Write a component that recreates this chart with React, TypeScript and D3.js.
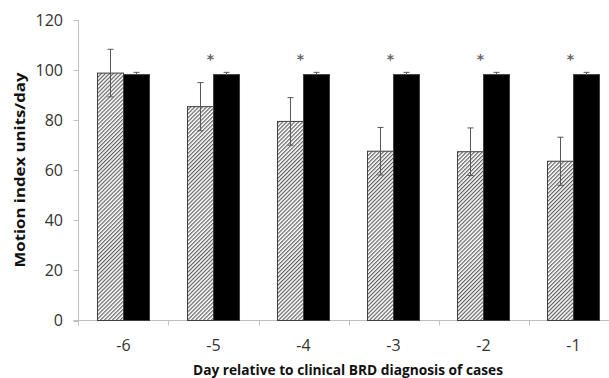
import React from 'react';
import * as d3 from 'd3';

const days = ['-6', '-5', '-4', '-3', '-2', '-1'];
const casesMean = [98.8, 85.4, 79.5, 67.6, 67.4, 63.6];
const casesErr = [9.5, 9.6, 9.5, 9.5, 9.5, 9.6];
const controlsMean = [98.2, 98.2, 98.2, 98.2, 98.2, 98.2];
const controlsErr = [0.9, 0.9, 0.9, 0.9, 0.9, 0.9];
const significant = [false, true, true, true, true, true];
const yTicks = [0, 20, 40, 60, 80, 100, 120];

const width = 609;
const height = 378;
const font = "'Open Sans', sans-serif";

const App = () => {
    const x = d3.scaleBand()
        .domain(days)
        .range([78.5, 618.5])
        .paddingInner(0.422)
        .paddingOuter(0.211);

    const sub = d3.scaleBand()
        .domain(['cases', 'controls'])
        .range([0, x.bandwidth()]);

    const y = d3.scaleLinear()
        .domain([0, 120])
        .range([320.5, 20]);

    const axisColor = '#bfbfbf';
    const errColor = '#555';
    const cap = 3;

    return (
        <svg width={width} height={height} style={{ position: 'absolute', left: 0, top: 0, background: '#fff' }}>
            <defs>
                <pattern id="hatch" patternUnits="userSpaceOnUse" width="2.8" height="2.8" patternTransform="rotate(45)">
                    <rect width="2.8" height="2.8" fill="#fff" />
                    <line x1="0.6" y1="0" x2="0.6" y2="2.8" stroke="#555" strokeWidth="1.1" />
                </pattern>
            </defs>

            {/* y axis */}
            <line x1={78.5} x2={78.5} y1={y(120)} y2={y(0)} stroke={axisColor} />
            {yTicks.map(t => (
                <g key={t}>
                    <line x1={73.5} x2={78.5} y1={Math.round(y(t)) + 0.5} y2={Math.round(y(t)) + 0.5} stroke={axisColor} />
                    <text x={63} y={y(t)} dy="0.36em" textAnchor="end" fontFamily={font} fontSize={16} fill="#333">{t}</text>
                </g>
            ))}

            {/* x axis */}
            <line x1={73.5} x2={width} y1={y(0)} y2={y(0)} stroke={axisColor} />
            {days.map(d => (
                <line key={d} x1={Math.round(x(d)! - x.step() * 0.211) + 0.5} x2={Math.round(x(d)! - x.step() * 0.211) + 0.5}
                    y1={y(0)} y2={y(0) + 5} stroke={axisColor} />
            ))}
            {days.map(d => (
                <text key={d} x={x(d)! + x.bandwidth() / 2} y={345} dy="0.36em" textAnchor="middle"
                    fontFamily={font} fontSize={16} fill="#333">{d}</text>
            ))}

            {/* bars */}
            {days.map((d, i) => {
                const x0 = x(d)!;
                const xc = x0 + sub('cases')!;
                const xk = x0 + sub('controls')!;
                const bw = sub.bandwidth();
                const cm = xc + bw / 2;
                const km = xk + bw / 2;
                return (
                    <g key={d}>
                        <rect x={xc} y={y(casesMean[i])} width={bw} height={y(0) - y(casesMean[i])}
                            fill="url(#hatch)" stroke="#404040" strokeWidth={1} />
                        <rect x={xk} y={y(controlsMean[i])} width={bw} height={y(0) - y(controlsMean[i])}
                            fill="#000" stroke="#404040" strokeWidth={1} />
                        <g stroke={errColor} strokeWidth={1}>
                            <line x1={cm} x2={cm} y1={y(casesMean[i] + casesErr[i])} y2={y(casesMean[i] - casesErr[i])} />
                            <line x1={cm - cap} x2={cm + cap} y1={y(casesMean[i] + casesErr[i])} y2={y(casesMean[i] + casesErr[i])} />
                            <line x1={cm - cap} x2={cm + cap} y1={y(casesMean[i] - casesErr[i])} y2={y(casesMean[i] - casesErr[i])} />
                            <line x1={km} x2={km} y1={y(controlsMean[i] + controlsErr[i])} y2={y(controlsMean[i])} />
                            <line x1={km - cap} x2={km + cap} y1={y(controlsMean[i] + controlsErr[i])} y2={y(controlsMean[i] + controlsErr[i])} />
                        </g>
                        {significant[i] && (
                            <text x={x0 + x.bandwidth() / 2 - 3} y={64} textAnchor="middle"
                                fontFamily="'DejaVu Sans', sans-serif" fontSize={14} fontWeight="bold" fill="#666">*</text>
                        )}
                    </g>
                );
            })}

            {/* axis titles */}
            <text transform="translate(25,170) rotate(-90)" textAnchor="middle" fontFamily={font}
                fontWeight="bold" fontSize={15} fill="#111" textLength={195} lengthAdjust="spacingAndGlyphs">
                Motion index units/day
            </text>
            <text x={348} y={375} textAnchor="middle" fontFamily={font} fontWeight="bold" fontSize={14}
                fill="#111" textLength={310} lengthAdjust="spacingAndGlyphs">
                Day relative to clinical BRD diagnosis of cases
            </text>
        </svg>
    );
};

export default App;
